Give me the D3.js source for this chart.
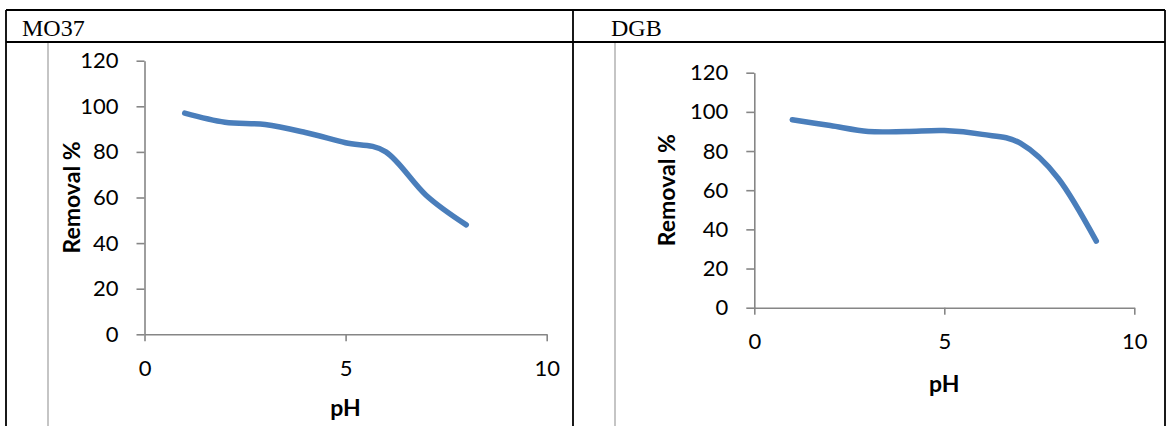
<!DOCTYPE html>
<html>
<head>
<meta charset="utf-8">
<script src="https://cdn.jsdelivr.net/npm/d3@7"></script>
<style>
  body { margin: 0; background: #fff; }
  .tick text { font-family: Lato, "Open Sans", sans-serif; font-size: 22px; fill: #000; }
  .axisTitle { font-family: Lato, "Open Sans", sans-serif; font-size: 23px; font-weight: bold; fill: #000; }
  .cellTitle { font-family: "Liberation Serif", "Times New Roman", serif; font-size: 24px; fill: #000; }
</style>
</head>
<body>
<div class="chart"></div>
<script>
// data
var phMO37 = [1, 2, 3, 4, 5, 6, 7, 8];
var removalMO37 = [97, 93, 92, 88.5, 84, 80, 61, 48];
var phDGB = [1, 2, 3, 4, 5, 6, 7, 8, 9];
var removalDGB = [96, 93, 90, 90, 90.5, 88.5, 84, 66, 34];
var xTicks = [0, 5, 10];
var yTicks = [0, 20, 40, 60, 80, 100, 120];
var titles = ["MO37", "DGB"];

var svgWidth = 1170;
var svgHeight = 426;

var svg = d3.select(".chart")
  .append("svg")
  .attr("width", svgWidth)
  .attr("height", svgHeight);

// table around the two charts
var table = svg.append("g")
  .attr("stroke", "#000")
  .attr("stroke-width", 1.8);
table.append("line").attr("x1", 6).attr("x2", 1165).attr("y1", 10).attr("y2", 10);
table.append("line").attr("x1", 6).attr("x2", 1165).attr("y1", 42).attr("y2", 42);
table.append("line").attr("x1", 6).attr("x2", 6).attr("y1", 10).attr("y2", 426);
table.append("line").attr("x1", 573).attr("x2", 573).attr("y1", 10).attr("y2", 426);
table.append("line").attr("x1", 1165).attr("x2", 1165).attr("y1", 10).attr("y2", 426);

// one panel per dye
var panels = [
  { title: titles[0], x: phMO37, y: removalMO37, frameX: 48, titleX: 22,
    left: 144.5, right: 546.7, top: 60.7, bottom: 334.3,
    yLabelX: 80, pHBase: 416 },
  { title: titles[1], x: phDGB, y: removalDGB, frameX: 615, titleX: 611,
    left: 754.3, right: 1134.3, top: 72.7, bottom: 307.7,
    yLabelX: 675, pHBase: 392 }
];

panels.forEach(function (p) {
  svg.append("text")
    .attr("class", "cellTitle")
    .attr("x", p.titleX)
    .attr("y", 36)
    .text(p.title);

  // excel chart frame
  svg.append("line")
    .attr("x1", p.frameX).attr("x2", p.frameX)
    .attr("y1", 43).attr("y2", 426)
    .attr("stroke", "#a6a6a6")
    .attr("stroke-width", 1.3);

  var xScale = d3.scaleLinear().domain([0, 10]).range([p.left, p.right]);
  var yScale = d3.scaleLinear().domain([0, 120]).range([p.bottom, p.top]);

  var xAxis = svg.append("g")
    .attr("transform", `translate(0, ${p.bottom})`)
    .call(d3.axisBottom(xScale).tickValues(xTicks).tickSize(7).tickSizeOuter(0).tickPadding(19));

  var yAxis = svg.append("g")
    .attr("transform", `translate(${p.left}, 0)`)
    .call(d3.axisLeft(yScale).tickValues(yTicks).tickSize(8).tickSizeOuter(0).tickPadding(18));

  [xAxis, yAxis].forEach(function (a) {
    a.select(".domain").attr("stroke", "#868686").attr("stroke-width", 1.6);
    a.selectAll(".tick line").attr("stroke", "#868686").attr("stroke-width", 1.6);
  });

  var pts = p.x.map(function (d, i) { return [d, p.y[i]]; });
  var line = d3.line()
    .x(function (d) { return xScale(d[0]); })
    .y(function (d) { return yScale(d[1]); })
    .curve(d3.curveCardinal.tension(0));

  svg.append("path")
    .datum(pts)
    .attr("d", line)
    .attr("fill", "none")
    .attr("stroke", "#4a7ebb")
    .attr("stroke-width", 5.5)
    .attr("stroke-linecap", "round")
    .attr("stroke-linejoin", "round");

  // axis labels
  svg.append("text")
    .attr("class", "axisTitle")
    .attr("transform", `translate(${p.yLabelX}, ${(p.top + p.bottom) / 2}) rotate(-90)`)
    .attr("text-anchor", "middle")
    .text("Removal %");

  svg.append("text")
    .attr("class", "axisTitle")
    .attr("x", (p.left + p.right) / 2)
    .attr("y", p.pHBase)
    .attr("text-anchor", "middle")
    .text("pH");
});
</script>
</body>
</html>
